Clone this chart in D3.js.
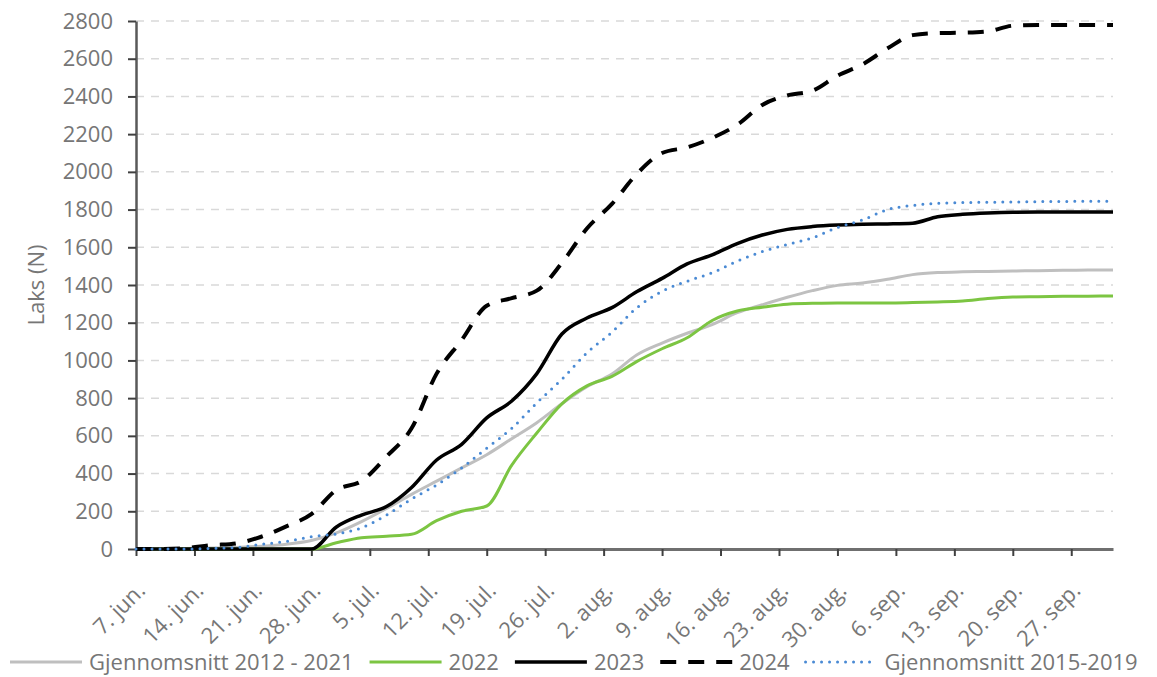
<!DOCTYPE html>
<html>
<head>
<meta charset="utf-8">
<script src="https://cdn.jsdelivr.net/npm/d3@7"></script>
<style>
  body { margin: 0; background: #fff; }
  svg text { font-family: "Open Sans", sans-serif; fill: #767676; }
</style>
</head>
<body>
<svg id="chart" width="1157" height="677"></svg>
<script>
// datoer (hver 3. dag)
var dates = ["2023-06-07","2023-06-10","2023-06-13","2023-06-16","2023-06-19","2023-06-22","2023-06-25","2023-06-28",
  "2023-07-01","2023-07-04","2023-07-07","2023-07-10","2023-07-13","2023-07-16","2023-07-19","2023-07-22","2023-07-25","2023-07-28","2023-07-31",
  "2023-08-03","2023-08-06","2023-08-09","2023-08-12","2023-08-15","2023-08-18","2023-08-21","2023-08-24","2023-08-27","2023-08-30",
  "2023-09-02","2023-09-05","2023-09-08","2023-09-11","2023-09-14","2023-09-17","2023-09-20","2023-09-23","2023-09-26","2023-09-29",
  "2023-10-02"]

var snitt1221 = [0,0,3,5,8,15,25,45,85,145,215,290,360,430,500,585,670,770,860,928,1030,1092,1144,1190,1253,1295,1335,1370,1398,1410,1430,1455,1466,1470,1472,1474,1476,1478,1480,1480]
var y2022 = [0,0,0,0,0,0,0,0,33,60,68,78,150,200,228,445,615,770,865,915,995,1062,1120,1212,1262,1282,1298,1303,1304,1305,1305,1307,1310,1315,1328,1336,1338,1340,1341,1342]
var y2023 = [0,0,0,0,0,0,0,0,117,180,225,326,472,555,695,785,930,1140,1225,1280,1365,1435,1512,1560,1620,1665,1695,1710,1718,1722,1724,1728,1762,1775,1782,1786,1787,1787,1787,1787]
var y2024 = [0,0,5,20,30,65,120,185,313,360,490,640,930,1108,1290,1330,1370,1517,1700,1830,1990,2100,2130,2180,2250,2355,2405,2430,2510,2570,2655,2725,2736,2738,2745,2775,2779,2779,2779,2779]
var snitt1519 = [0,0,0,3,8,25,40,65,80,112,180,265,340,430,535,640,775,900,1040,1150,1280,1367,1420,1465,1527,1577,1615,1650,1705,1745,1800,1822,1833,1837,1839,1840,1842,1843,1844,1845]

var tickDates = ["2023-06-07","2023-06-14","2023-06-21","2023-06-28","2023-07-05","2023-07-12","2023-07-19","2023-07-26",
  "2023-08-02","2023-08-09","2023-08-16","2023-08-23","2023-08-30","2023-09-06","2023-09-13","2023-09-20","2023-09-27"]
var tickLabels = ["7. jun.","14. jun.","21. jun.","28. jun.","5. jul.","12. jul.","19. jul.","26. jul.",
  "2. aug.","9. aug.","16. aug.","23. aug.","30. aug.","6. sep.","13. sep.","20. sep.","27. sep."]
var yTicks = [0,200,400,600,800,1000,1200,1400,1600,1800,2000,2200,2400,2600,2800]

var series = [
  {navn:"Gjennomsnitt 2012 - 2021", verdi:snitt1221, farge:"#bfbfbf", bredde:3, dash:null, cap:"butt"},
  {navn:"2022", verdi:y2022, farge:"#7cc542", bredde:3, dash:null, cap:"butt"},
  {navn:"2023", verdi:y2023, farge:"#000", bredde:3.5, dash:null, cap:"butt"},
  {navn:"2024", verdi:y2024, farge:"#000", bredde:4, dash:"16,12", cap:"butt"},
  {navn:"Gjennomsnitt 2015-2019", verdi:snitt1519, farge:"#4a8ad4", bredde:3, dash:"0,8", cap:"round"}
]

var parse = d3.timeParse("%Y-%m-%d")
var datoer = dates.map(parse)
var fs = "22px"

var svg = d3.select("#chart")
var x = d3.scaleTime().domain([parse("2023-06-07"), parse("2023-10-02")]).range([136, 1113])
var y = d3.scaleLinear().domain([0, 2800]).range([549, 21])

// rutenett
svg.append("g").selectAll("line")
  .data(yTicks.filter(function(d){ return d > 0 }))
  .enter().append("line")
  .attr("x1", 136).attr("x2", 1113)
  .attr("y1", function(d){ return y(d) }).attr("y2", function(d){ return y(d) })
  .attr("stroke", "#d9d9d9").attr("stroke-width", 1.5).attr("stroke-dasharray", "8,7")

// y-akse
var yAxis = svg.append("g").attr("transform", "translate(136,0)")
  .call(d3.axisLeft(y).tickValues(yTicks).tickFormat(d3.format("d"))
    .tickSize(8).tickPadding(15).tickSizeOuter(0))
yAxis.select(".domain").attr("stroke", "#595959").attr("stroke-width", 2.5)
yAxis.selectAll(".tick line").attr("stroke", "#404040").attr("stroke-width", 2)
yAxis.selectAll("text").style("font-size", fs).attr("fill", "#767676")

// x-akse
var xAxis = svg.append("g").attr("transform", "translate(0,549)")
  .call(d3.axisBottom(x).tickValues(tickDates.map(parse))
    .tickFormat(function(d, i){ return tickLabels[i] }).tickSize(7).tickSizeOuter(0))
xAxis.select(".domain").attr("stroke", "#6f6f6f").attr("stroke-width", 3)
xAxis.selectAll(".tick line").attr("stroke", "#404040").attr("stroke-width", 2)
xAxis.selectAll("text")
  .style("font-size", fs).attr("fill", "#767676")
  .attr("text-anchor", "end")
  .attr("y", 0).attr("dy", 0)
  .attr("transform", "translate(10,43) rotate(-45)")

// aksetittel
svg.append("text")
  .attr("transform", "translate(44,285) rotate(-90)")
  .attr("text-anchor", "middle")
  .style("font-size", fs)
  .text("Laks (N)")

// linjer
var line = d3.line()
  .x(function(d, i){ return x(datoer[i]) })
  .y(function(d){ return y(d) })
  .curve(d3.curveMonotoneX)

series.forEach(function(s){
  svg.append("path")
    .datum(s.verdi)
    .attr("d", line)
    .attr("fill", "none")
    .attr("stroke", s.farge)
    .attr("stroke-width", s.bredde)
    .attr("stroke-dasharray", s.dash)
    .attr("stroke-linecap", s.cap)
    .attr("stroke-linejoin", "round")
})

// tegnforklaring
var lx = 10
var leg = svg.append("g")
series.forEach(function(s){
  leg.append("line")
    .attr("x1", lx).attr("x2", lx + 72).attr("y1", 662).attr("y2", 662)
    .attr("stroke", s.farge).attr("stroke-width", s.bredde)
    .attr("stroke-dasharray", s.dash).attr("stroke-linecap", s.cap)
  var t = leg.append("text")
    .attr("x", lx + 79).attr("y", 670)
    .style("font-size", fs)
    .text(s.navn)
  lx = lx + 79 + t.node().getComputedTextLength() + 16
})
</script>
</body>
</html>
